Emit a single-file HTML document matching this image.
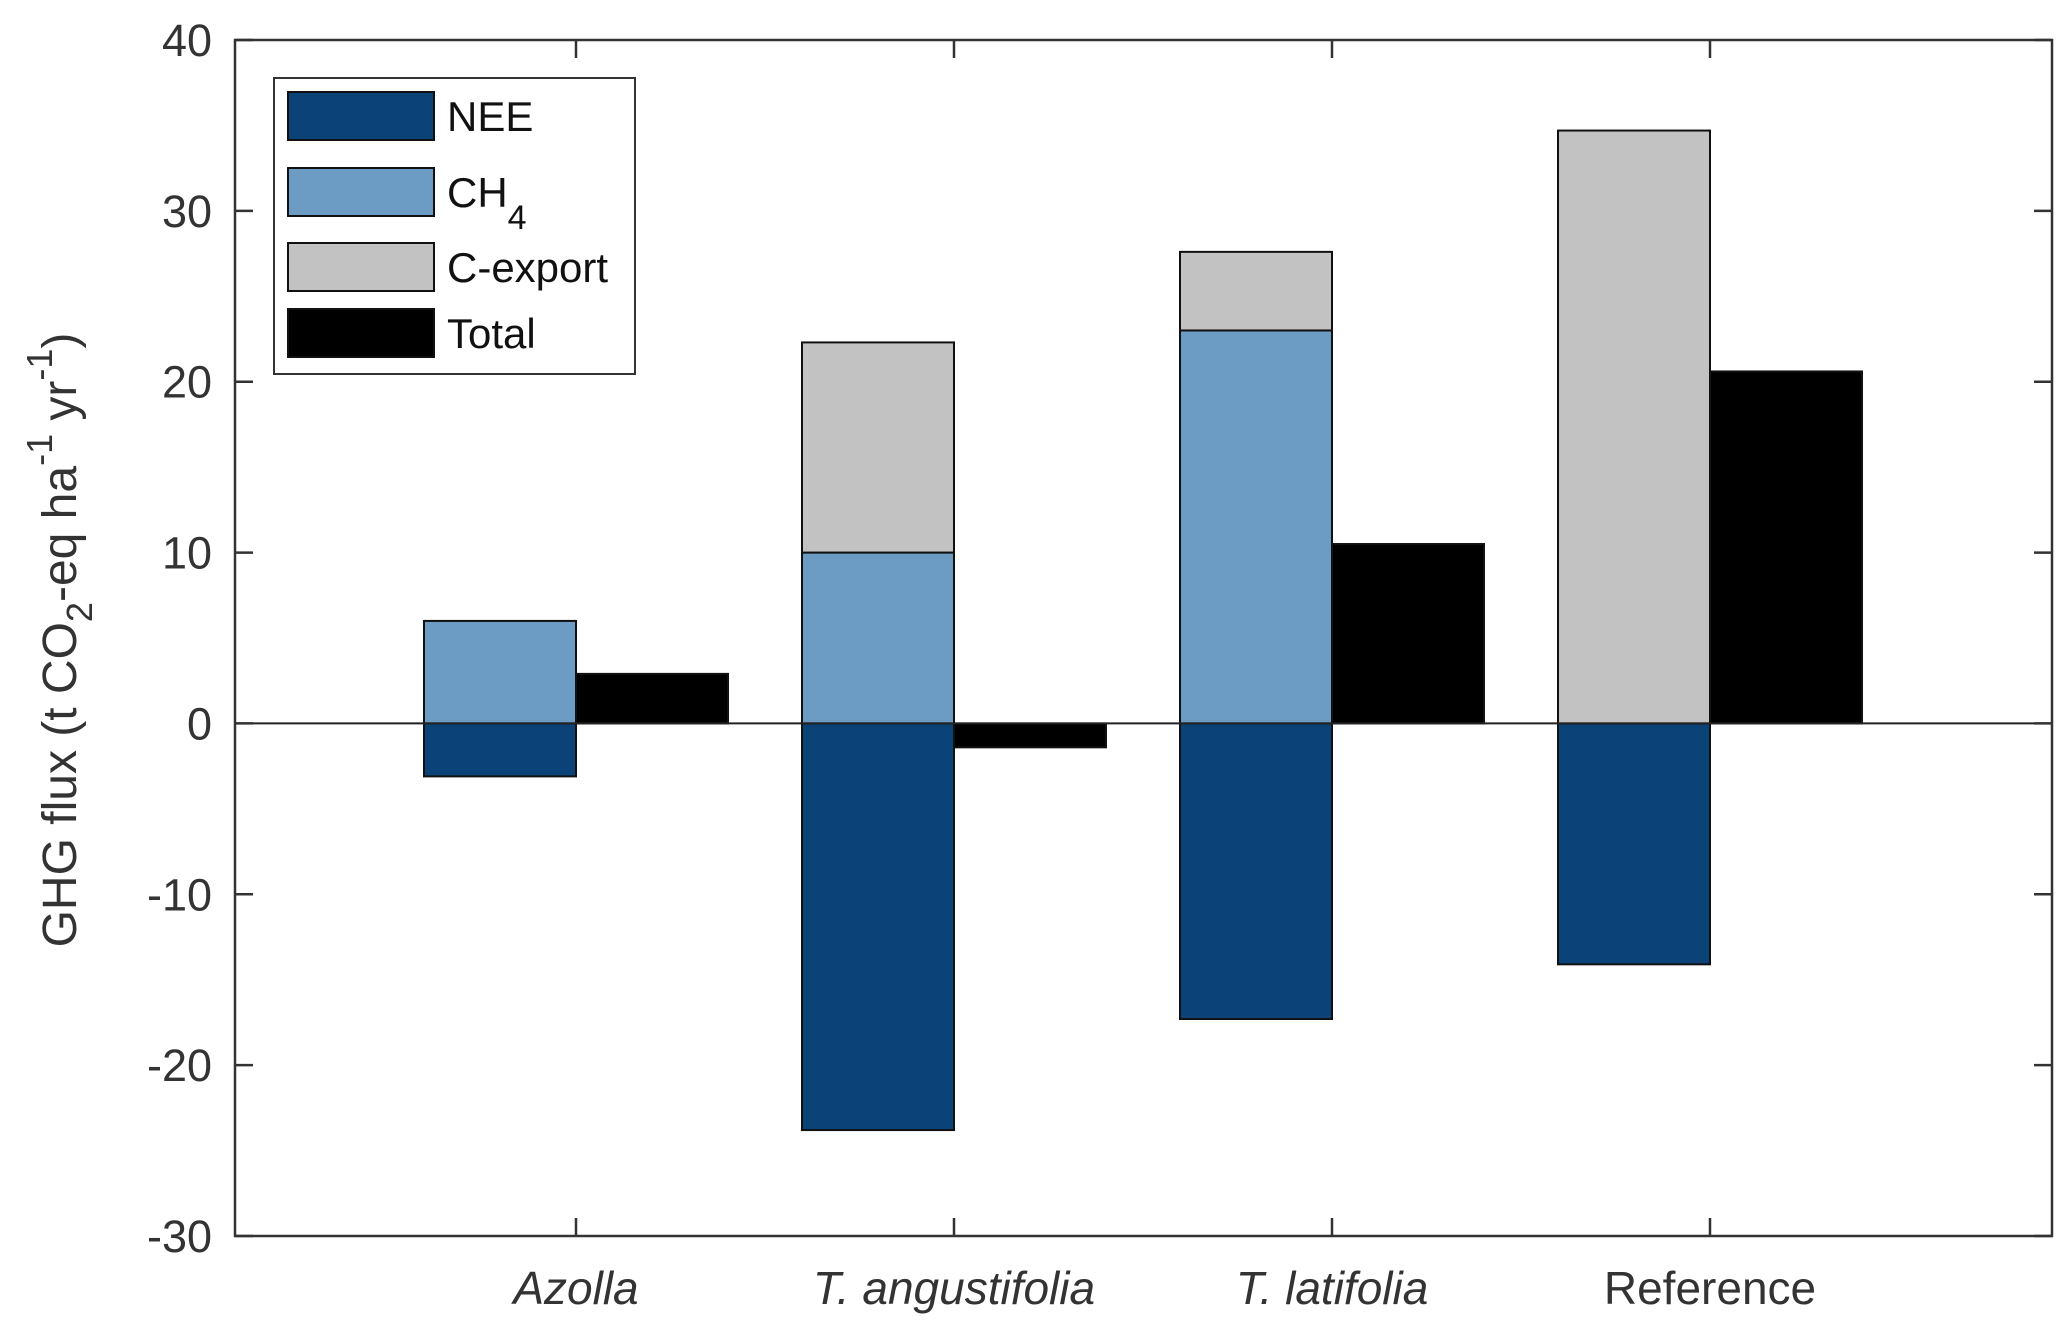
<!DOCTYPE html>
<html><head><meta charset="utf-8"><style>
html,body{margin:0;padding:0;background:#fff;}
svg{display:block;font-family:"Liberation Sans",sans-serif;}
</style></head><body>
<svg id="chart" width="2067" height="1329" viewBox="0 0 2067 1329">
<g id="bars"></g>
<g id="axes"></g>
<g id="legend"></g>
</svg>
<script>
const categories = ["Azolla", "T. angustifolia", "T. latifolia", "Reference"];
const italicCats = [true, true, true, false];
const neeValues = [-3.1, -23.8, -17.3, -14.1];
const ch4Values = [6.0, 10.0, 23.0, 0];
const cexportValues = [0, 12.3, 4.6, 34.7];
const totalValues = [2.9, -1.4, 10.5, 20.6];
const yTicks = [-30, -20, -10, 0, 10, 20, 30, 40];

const NS = "http://www.w3.org/2000/svg";
const L = 235, R = 2052, T = 40, B = 1236, yMin = -30, yMax = 40;
const barW = 152;
function yScale(v){ return B - (v - yMin) / (yMax - yMin) * (B - T); }
function xScale(i){ return 576 + i * 378; }
function mk(tag, attrs, parent){ const e = document.createElementNS(NS, tag); for (const k in attrs) e.setAttribute(k, attrs[k]); parent.appendChild(e); return e; }

const bars = document.getElementById('bars');
const axes = document.getElementById('axes');
const legend = document.getElementById('legend');
const cNEE = "#0b4277", cCH4 = "#6c9bc3", cCEX = "#c2c2c2", cTOT = "#000";

function bar(x, v0, v1, fill, name){
  const y0 = yScale(Math.max(v0, v1)), y1 = yScale(Math.min(v0, v1));
  const r = mk('rect', {x: x, y: y0, width: barW, height: Math.max(0, y1 - y0), fill: fill, stroke: "#111", 'stroke-width': 2}, bars);
  
  
}
categories.forEach((c, i) => {
  const cx = xScale(i);
  if (neeValues[i] !== 0) bar(cx - barW, 0, neeValues[i], cNEE, 'bar-nee-' + i);
  if (ch4Values[i] !== 0) bar(cx - barW, 0, ch4Values[i], cCH4, 'bar-ch4-' + i);
  if (cexportValues[i] !== 0) bar(cx - barW, ch4Values[i], ch4Values[i] + cexportValues[i], cCEX, 'bar-cexport-' + i);
  bar(cx, 0, totalValues[i], cTOT, 'bar-total-' + i);
});
const zl = mk('line', {x1: L, x2: R, y1: yScale(0), y2: yScale(0), stroke: "#222", 'stroke-width': 2}, axes);


const fr = mk('rect', {x: L, y: T, width: R - L, height: B - T, fill: "none", stroke: "#333", 'stroke-width': 2.5}, axes);


yTicks.forEach(v => {
  const y = yScale(v);
  mk('line', {x1: L, x2: L + 18, y1: y, y2: y, stroke: "#333", 'stroke-width': 2.5}, axes);
  mk('line', {x1: R, x2: R - 18, y1: y, y2: y, stroke: "#333", 'stroke-width': 2.5}, axes);
  const t = mk('text', {x: 212, y: y + 16, 'text-anchor': 'end', 'font-size': 45, fill: "#333"}, axes);
  t.textContent = v;
  
  
});
categories.forEach((c, i) => {
  const x = xScale(i);
  mk('line', {x1: x, x2: x, y1: B, y2: B - 18, stroke: "#333", 'stroke-width': 2.5}, axes);
  mk('line', {x1: x, x2: x, y1: T, y2: T + 18, stroke: "#333", 'stroke-width': 2.5}, axes);
  const t = mk('text', {x: x, y: 1304, 'text-anchor': 'middle', 'font-size': 46, fill: "#333"}, axes);
  if (italicCats[i]) t.setAttribute('font-style', 'italic');
  t.textContent = c;
  
  
});
const yt = mk('text', {transform: 'translate(76,640) rotate(-90)', 'text-anchor': 'middle', 'font-size': 48, fill: "#333"}, axes);
yt.innerHTML = 'GHG flux (t CO<tspan dy="16" font-size="36">2</tspan><tspan dy="-16">-eq ha</tspan><tspan dy="-24" font-size="36">-1</tspan><tspan dy="24"> yr</tspan><tspan dy="-24" font-size="36">-1</tspan><tspan dy="24">)</tspan>';


const lb = mk('rect', {x: 274, y: 78, width: 361, height: 296, fill: "#fff", stroke: "#333", 'stroke-width': 2}, legend);


const legNames = ["NEE", "CH", "C-export", "Total"];
const legColors = [cNEE, cCH4, cCEX, cTOT];
const legY = [116, 192, 267, 333];
legNames.forEach((n, i) => {
  const g = mk('g', {}, legend);
  
  
  mk('rect', {x: 288, y: legY[i] - 24, width: 146, height: 48, fill: legColors[i], stroke: "#111", 'stroke-width': 2}, g);
  const t = mk('text', {x: 447, y: legY[i] + 15, 'font-size': 42, fill: "#111"}, g);
  if (i === 1) t.innerHTML = 'CH<tspan dy="22" font-size="34">4</tspan>';
  else t.textContent = n;
});
</script>
</body></html>
